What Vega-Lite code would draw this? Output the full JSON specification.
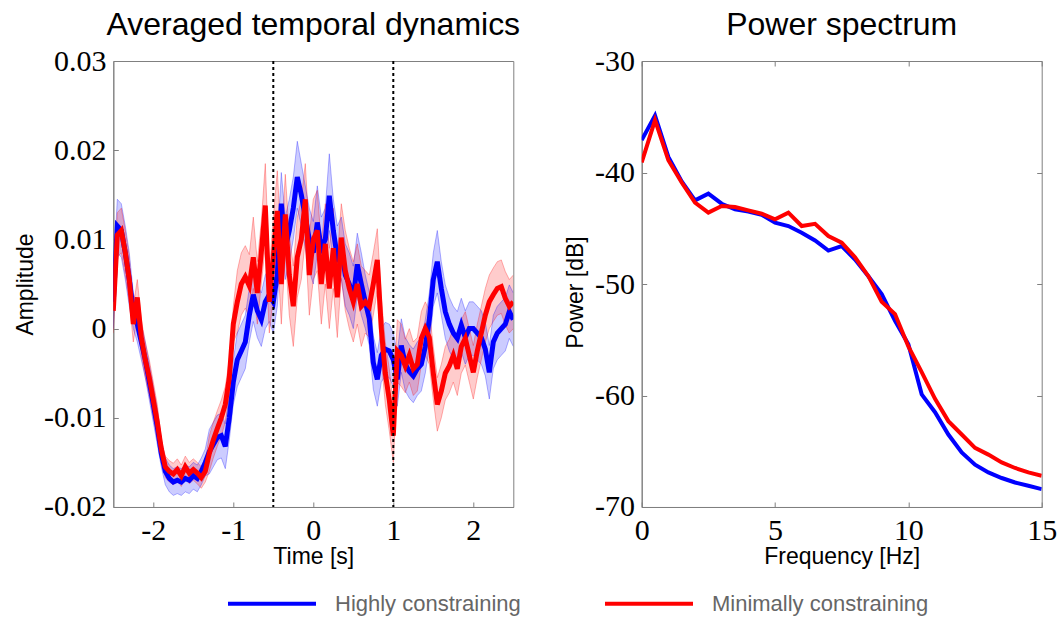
{
  "$schema": "https://vega.github.io/schema/vega-lite/v6.json",
  "background": "white",
  "padding": {"left": 13.3, "top": 8, "right": 10, "bottom": 5},
  "spacing": 42.4,
  "datasets": {
    "td": [
      {"t":-2.50,"s":"Highly constraining","m":0.0030,"lo":0.0000,"hi":0.0060},
      {"t":-2.45,"s":"Highly constraining","m":0.0115,"lo":0.0085,"hi":0.0145},
      {"t":-2.40,"s":"Highly constraining","m":0.0110,"lo":0.0080,"hi":0.0140},
      {"t":-2.35,"s":"Highly constraining","m":0.0085,"lo":0.0055,"hi":0.0115},
      {"t":-2.30,"s":"Highly constraining","m":0.0055,"lo":0.0025,"hi":0.0085},
      {"t":-2.25,"s":"Highly constraining","m":0.0020,"lo":0.0000,"hi":0.0040},
      {"t":-2.20,"s":"Highly constraining","m":0.0005,"lo":-0.0015,"hi":0.0025},
      {"t":-2.15,"s":"Highly constraining","m":-0.0015,"lo":-0.0035,"hi":0.0005},
      {"t":-2.10,"s":"Highly constraining","m":-0.0035,"lo":-0.0055,"hi":-0.0015},
      {"t":-2.05,"s":"Highly constraining","m":-0.0060,"lo":-0.0080,"hi":-0.0040},
      {"t":-2.00,"s":"Highly constraining","m":-0.0085,"lo":-0.0105,"hi":-0.0065},
      {"t":-1.95,"s":"Highly constraining","m":-0.0110,"lo":-0.0130,"hi":-0.0090},
      {"t":-1.90,"s":"Highly constraining","m":-0.0140,"lo":-0.0155,"hi":-0.0125},
      {"t":-1.85,"s":"Highly constraining","m":-0.0160,"lo":-0.0175,"hi":-0.0145},
      {"t":-1.80,"s":"Highly constraining","m":-0.0168,"lo":-0.0183,"hi":-0.0153},
      {"t":-1.75,"s":"Highly constraining","m":-0.0172,"lo":-0.0187,"hi":-0.0157},
      {"t":-1.70,"s":"Highly constraining","m":-0.0170,"lo":-0.0185,"hi":-0.0155},
      {"t":-1.65,"s":"Highly constraining","m":-0.0172,"lo":-0.0187,"hi":-0.0157},
      {"t":-1.60,"s":"Highly constraining","m":-0.0168,"lo":-0.0183,"hi":-0.0153},
      {"t":-1.55,"s":"Highly constraining","m":-0.0170,"lo":-0.0185,"hi":-0.0155},
      {"t":-1.50,"s":"Highly constraining","m":-0.0165,"lo":-0.0180,"hi":-0.0150},
      {"t":-1.45,"s":"Highly constraining","m":-0.0168,"lo":-0.0183,"hi":-0.0153},
      {"t":-1.40,"s":"Highly constraining","m":-0.0160,"lo":-0.0175,"hi":-0.0145},
      {"t":-1.35,"s":"Highly constraining","m":-0.0150,"lo":-0.0165,"hi":-0.0135},
      {"t":-1.30,"s":"Highly constraining","m":-0.0138,"lo":-0.0163,"hi":-0.0113},
      {"t":-1.25,"s":"Highly constraining","m":-0.0130,"lo":-0.0155,"hi":-0.0105},
      {"t":-1.20,"s":"Highly constraining","m":-0.0122,"lo":-0.0147,"hi":-0.0097},
      {"t":-1.15,"s":"Highly constraining","m":-0.0120,"lo":-0.0145,"hi":-0.0095},
      {"t":-1.10,"s":"Highly constraining","m":-0.0132,"lo":-0.0157,"hi":-0.0107},
      {"t":-1.05,"s":"Highly constraining","m":-0.0100,"lo":-0.0125,"hi":-0.0075},
      {"t":-1.00,"s":"Highly constraining","m":-0.0060,"lo":-0.0085,"hi":-0.0035},
      {"t":-0.95,"s":"Highly constraining","m":-0.0035,"lo":-0.0065,"hi":-0.0005},
      {"t":-0.90,"s":"Highly constraining","m":-0.0025,"lo":-0.0055,"hi":0.0005},
      {"t":-0.85,"s":"Highly constraining","m":-0.0015,"lo":-0.0045,"hi":0.0015},
      {"t":-0.80,"s":"Highly constraining","m":0.0015,"lo":-0.0015,"hi":0.0045},
      {"t":-0.75,"s":"Highly constraining","m":0.0038,"lo":0.0008,"hi":0.0068},
      {"t":-0.70,"s":"Highly constraining","m":0.0020,"lo":-0.0010,"hi":0.0050},
      {"t":-0.65,"s":"Highly constraining","m":0.0010,"lo":-0.0020,"hi":0.0040},
      {"t":-0.60,"s":"Highly constraining","m":0.0030,"lo":0.0000,"hi":0.0060},
      {"t":-0.55,"s":"Highly constraining","m":0.0038,"lo":0.0008,"hi":0.0068},
      {"t":-0.50,"s":"Highly constraining","m":0.0030,"lo":-0.0005,"hi":0.0065},
      {"t":-0.45,"s":"Highly constraining","m":0.0060,"lo":0.0025,"hi":0.0095},
      {"t":-0.40,"s":"Highly constraining","m":0.0140,"lo":0.0105,"hi":0.0175},
      {"t":-0.35,"s":"Highly constraining","m":0.0090,"lo":0.0055,"hi":0.0125},
      {"t":-0.30,"s":"Highly constraining","m":0.0110,"lo":0.0075,"hi":0.0145},
      {"t":-0.25,"s":"Highly constraining","m":0.0135,"lo":0.0100,"hi":0.0170},
      {"t":-0.20,"s":"Highly constraining","m":0.0170,"lo":0.0135,"hi":0.0210},
      {"t":-0.15,"s":"Highly constraining","m":0.0150,"lo":0.0115,"hi":0.0185},
      {"t":-0.10,"s":"Highly constraining","m":0.0125,"lo":0.0090,"hi":0.0160},
      {"t":-0.05,"s":"Highly constraining","m":0.0100,"lo":0.0065,"hi":0.0135},
      {"t":0.00,"s":"Highly constraining","m":0.0085,"lo":0.0050,"hi":0.0120},
      {"t":0.05,"s":"Highly constraining","m":0.0119,"lo":0.0084,"hi":0.0160},
      {"t":0.10,"s":"Highly constraining","m":0.0090,"lo":0.0055,"hi":0.0125},
      {"t":0.15,"s":"Highly constraining","m":0.0100,"lo":0.0065,"hi":0.0135},
      {"t":0.20,"s":"Highly constraining","m":0.0149,"lo":0.0110,"hi":0.0196},
      {"t":0.25,"s":"Highly constraining","m":0.0110,"lo":0.0075,"hi":0.0145},
      {"t":0.30,"s":"Highly constraining","m":0.0080,"lo":0.0045,"hi":0.0115},
      {"t":0.35,"s":"Highly constraining","m":0.0090,"lo":0.0055,"hi":0.0125},
      {"t":0.40,"s":"Highly constraining","m":0.0060,"lo":0.0025,"hi":0.0095},
      {"t":0.45,"s":"Highly constraining","m":0.0050,"lo":0.0015,"hi":0.0085},
      {"t":0.50,"s":"Highly constraining","m":0.0035,"lo":0.0000,"hi":0.0070},
      {"t":0.55,"s":"Highly constraining","m":0.0072,"lo":0.0037,"hi":0.0107},
      {"t":0.60,"s":"Highly constraining","m":0.0050,"lo":0.0015,"hi":0.0085},
      {"t":0.65,"s":"Highly constraining","m":0.0030,"lo":0.0000,"hi":0.0060},
      {"t":0.70,"s":"Highly constraining","m":0.0011,"lo":-0.0019,"hi":0.0041},
      {"t":0.75,"s":"Highly constraining","m":-0.0038,"lo":-0.0068,"hi":-0.0008},
      {"t":0.80,"s":"Highly constraining","m":-0.0057,"lo":-0.0087,"hi":-0.0027},
      {"t":0.85,"s":"Highly constraining","m":-0.0030,"lo":-0.0060,"hi":0.0000},
      {"t":0.90,"s":"Highly constraining","m":-0.0023,"lo":-0.0053,"hi":0.0007},
      {"t":0.95,"s":"Highly constraining","m":-0.0025,"lo":-0.0055,"hi":0.0005},
      {"t":1.00,"s":"Highly constraining","m":-0.0035,"lo":-0.0065,"hi":-0.0005},
      {"t":1.05,"s":"Highly constraining","m":-0.0057,"lo":-0.0087,"hi":-0.0027},
      {"t":1.10,"s":"Highly constraining","m":-0.0019,"lo":-0.0049,"hi":0.0011},
      {"t":1.15,"s":"Highly constraining","m":-0.0040,"lo":-0.0070,"hi":-0.0010},
      {"t":1.20,"s":"Highly constraining","m":-0.0048,"lo":-0.0078,"hi":-0.0018},
      {"t":1.25,"s":"Highly constraining","m":-0.0053,"lo":-0.0083,"hi":-0.0023},
      {"t":1.30,"s":"Highly constraining","m":-0.0045,"lo":-0.0075,"hi":-0.0015},
      {"t":1.35,"s":"Highly constraining","m":-0.0040,"lo":-0.0070,"hi":-0.0010},
      {"t":1.40,"s":"Highly constraining","m":-0.0020,"lo":-0.0050,"hi":0.0010},
      {"t":1.45,"s":"Highly constraining","m":0.0010,"lo":-0.0020,"hi":0.0040},
      {"t":1.50,"s":"Highly constraining","m":0.0055,"lo":0.0025,"hi":0.0085},
      {"t":1.55,"s":"Highly constraining","m":0.0075,"lo":0.0040,"hi":0.0110},
      {"t":1.60,"s":"Highly constraining","m":0.0045,"lo":0.0015,"hi":0.0075},
      {"t":1.65,"s":"Highly constraining","m":0.0019,"lo":-0.0011,"hi":0.0049},
      {"t":1.70,"s":"Highly constraining","m":0.0005,"lo":-0.0025,"hi":0.0035},
      {"t":1.75,"s":"Highly constraining","m":-0.0005,"lo":-0.0035,"hi":0.0025},
      {"t":1.80,"s":"Highly constraining","m":-0.0011,"lo":-0.0041,"hi":0.0019},
      {"t":1.85,"s":"Highly constraining","m":0.0004,"lo":-0.0026,"hi":0.0034},
      {"t":1.90,"s":"Highly constraining","m":-0.0010,"lo":-0.0040,"hi":0.0020},
      {"t":1.95,"s":"Highly constraining","m":0.0000,"lo":-0.0030,"hi":0.0030},
      {"t":2.00,"s":"Highly constraining","m":0.0000,"lo":-0.0030,"hi":0.0030},
      {"t":2.05,"s":"Highly constraining","m":-0.0005,"lo":-0.0035,"hi":0.0025},
      {"t":2.10,"s":"Highly constraining","m":-0.0010,"lo":-0.0040,"hi":0.0020},
      {"t":2.15,"s":"Highly constraining","m":-0.0023,"lo":-0.0053,"hi":0.0007},
      {"t":2.20,"s":"Highly constraining","m":-0.0049,"lo":-0.0079,"hi":-0.0019},
      {"t":2.25,"s":"Highly constraining","m":-0.0015,"lo":-0.0045,"hi":0.0015},
      {"t":2.30,"s":"Highly constraining","m":-0.0005,"lo":-0.0035,"hi":0.0025},
      {"t":2.35,"s":"Highly constraining","m":0.0000,"lo":-0.0030,"hi":0.0030},
      {"t":2.40,"s":"Highly constraining","m":0.0005,"lo":-0.0025,"hi":0.0035},
      {"t":2.45,"s":"Highly constraining","m":0.0019,"lo":-0.0011,"hi":0.0049},
      {"t":2.50,"s":"Highly constraining","m":0.0010,"lo":-0.0020,"hi":0.0040},
      {"t":-2.50,"s":"Minimally constraining","m":0.0020,"lo":-0.0005,"hi":0.0045},
      {"t":-2.45,"s":"Minimally constraining","m":0.0105,"lo":0.0080,"hi":0.0130},
      {"t":-2.40,"s":"Minimally constraining","m":0.0110,"lo":0.0085,"hi":0.0135},
      {"t":-2.35,"s":"Minimally constraining","m":0.0085,"lo":0.0060,"hi":0.0110},
      {"t":-2.30,"s":"Minimally constraining","m":0.0055,"lo":0.0030,"hi":0.0080},
      {"t":-2.25,"s":"Minimally constraining","m":0.0005,"lo":-0.0015,"hi":0.0025},
      {"t":-2.20,"s":"Minimally constraining","m":0.0035,"lo":0.0015,"hi":0.0055},
      {"t":-2.15,"s":"Minimally constraining","m":-0.0010,"lo":-0.0030,"hi":0.0010},
      {"t":-2.10,"s":"Minimally constraining","m":-0.0035,"lo":-0.0055,"hi":-0.0015},
      {"t":-2.05,"s":"Minimally constraining","m":-0.0055,"lo":-0.0075,"hi":-0.0035},
      {"t":-2.00,"s":"Minimally constraining","m":-0.0080,"lo":-0.0100,"hi":-0.0060},
      {"t":-1.95,"s":"Minimally constraining","m":-0.0105,"lo":-0.0125,"hi":-0.0085},
      {"t":-1.90,"s":"Minimally constraining","m":-0.0135,"lo":-0.0147,"hi":-0.0123},
      {"t":-1.85,"s":"Minimally constraining","m":-0.0155,"lo":-0.0167,"hi":-0.0143},
      {"t":-1.80,"s":"Minimally constraining","m":-0.0160,"lo":-0.0172,"hi":-0.0148},
      {"t":-1.75,"s":"Minimally constraining","m":-0.0163,"lo":-0.0175,"hi":-0.0151},
      {"t":-1.70,"s":"Minimally constraining","m":-0.0158,"lo":-0.0170,"hi":-0.0146},
      {"t":-1.65,"s":"Minimally constraining","m":-0.0165,"lo":-0.0177,"hi":-0.0153},
      {"t":-1.60,"s":"Minimally constraining","m":-0.0155,"lo":-0.0167,"hi":-0.0143},
      {"t":-1.55,"s":"Minimally constraining","m":-0.0162,"lo":-0.0174,"hi":-0.0150},
      {"t":-1.50,"s":"Minimally constraining","m":-0.0158,"lo":-0.0170,"hi":-0.0146},
      {"t":-1.45,"s":"Minimally constraining","m":-0.0162,"lo":-0.0174,"hi":-0.0150},
      {"t":-1.40,"s":"Minimally constraining","m":-0.0167,"lo":-0.0179,"hi":-0.0155},
      {"t":-1.35,"s":"Minimally constraining","m":-0.0160,"lo":-0.0172,"hi":-0.0148},
      {"t":-1.30,"s":"Minimally constraining","m":-0.0140,"lo":-0.0160,"hi":-0.0120},
      {"t":-1.25,"s":"Minimally constraining","m":-0.0125,"lo":-0.0145,"hi":-0.0105},
      {"t":-1.20,"s":"Minimally constraining","m":-0.0112,"lo":-0.0132,"hi":-0.0092},
      {"t":-1.15,"s":"Minimally constraining","m":-0.0100,"lo":-0.0120,"hi":-0.0080},
      {"t":-1.10,"s":"Minimally constraining","m":-0.0085,"lo":-0.0105,"hi":-0.0065},
      {"t":-1.05,"s":"Minimally constraining","m":-0.0055,"lo":-0.0075,"hi":-0.0035},
      {"t":-1.00,"s":"Minimally constraining","m":0.0005,"lo":-0.0015,"hi":0.0025},
      {"t":-0.95,"s":"Minimally constraining","m":0.0030,"lo":-0.0005,"hi":0.0065},
      {"t":-0.90,"s":"Minimally constraining","m":0.0050,"lo":0.0015,"hi":0.0085},
      {"t":-0.85,"s":"Minimally constraining","m":0.0058,"lo":0.0023,"hi":0.0093},
      {"t":-0.80,"s":"Minimally constraining","m":0.0048,"lo":0.0013,"hi":0.0083},
      {"t":-0.75,"s":"Minimally constraining","m":0.0080,"lo":0.0045,"hi":0.0125},
      {"t":-0.70,"s":"Minimally constraining","m":0.0040,"lo":0.0005,"hi":0.0075},
      {"t":-0.65,"s":"Minimally constraining","m":0.0085,"lo":0.0050,"hi":0.0120},
      {"t":-0.60,"s":"Minimally constraining","m":0.0138,"lo":0.0093,"hi":0.0185},
      {"t":-0.55,"s":"Minimally constraining","m":0.0030,"lo":-0.0005,"hi":0.0065},
      {"t":-0.50,"s":"Minimally constraining","m":0.0080,"lo":0.0035,"hi":0.0125},
      {"t":-0.45,"s":"Minimally constraining","m":0.0132,"lo":0.0087,"hi":0.0177},
      {"t":-0.40,"s":"Minimally constraining","m":0.0050,"lo":0.0005,"hi":0.0095},
      {"t":-0.35,"s":"Minimally constraining","m":0.0128,"lo":0.0083,"hi":0.0173},
      {"t":-0.30,"s":"Minimally constraining","m":0.0060,"lo":0.0015,"hi":0.0105},
      {"t":-0.25,"s":"Minimally constraining","m":0.0025,"lo":-0.0020,"hi":0.0070},
      {"t":-0.20,"s":"Minimally constraining","m":0.0080,"lo":0.0035,"hi":0.0125},
      {"t":-0.15,"s":"Minimally constraining","m":0.0100,"lo":0.0055,"hi":0.0145},
      {"t":-0.10,"s":"Minimally constraining","m":0.0145,"lo":0.0100,"hi":0.0185},
      {"t":-0.05,"s":"Minimally constraining","m":0.0060,"lo":0.0015,"hi":0.0105},
      {"t":0.00,"s":"Minimally constraining","m":0.0100,"lo":0.0055,"hi":0.0145},
      {"t":0.05,"s":"Minimally constraining","m":0.0110,"lo":0.0065,"hi":0.0155},
      {"t":0.10,"s":"Minimally constraining","m":0.0050,"lo":0.0005,"hi":0.0095},
      {"t":0.15,"s":"Minimally constraining","m":0.0095,"lo":0.0050,"hi":0.0140},
      {"t":0.20,"s":"Minimally constraining","m":0.0045,"lo":0.0000,"hi":0.0090},
      {"t":0.25,"s":"Minimally constraining","m":0.0090,"lo":0.0045,"hi":0.0135},
      {"t":0.30,"s":"Minimally constraining","m":0.0035,"lo":-0.0010,"hi":0.0080},
      {"t":0.35,"s":"Minimally constraining","m":0.0102,"lo":0.0057,"hi":0.0140},
      {"t":0.40,"s":"Minimally constraining","m":0.0065,"lo":0.0020,"hi":0.0110},
      {"t":0.45,"s":"Minimally constraining","m":0.0045,"lo":0.0000,"hi":0.0090},
      {"t":0.50,"s":"Minimally constraining","m":0.0030,"lo":-0.0015,"hi":0.0075},
      {"t":0.55,"s":"Minimally constraining","m":0.0050,"lo":0.0005,"hi":0.0095},
      {"t":0.60,"s":"Minimally constraining","m":0.0025,"lo":-0.0020,"hi":0.0070},
      {"t":0.65,"s":"Minimally constraining","m":0.0030,"lo":-0.0005,"hi":0.0065},
      {"t":0.70,"s":"Minimally constraining","m":0.0025,"lo":-0.0010,"hi":0.0060},
      {"t":0.75,"s":"Minimally constraining","m":0.0050,"lo":0.0015,"hi":0.0085},
      {"t":0.80,"s":"Minimally constraining","m":0.0077,"lo":0.0042,"hi":0.0112},
      {"t":0.85,"s":"Minimally constraining","m":0.0000,"lo":-0.0035,"hi":0.0035},
      {"t":0.90,"s":"Minimally constraining","m":-0.0050,"lo":-0.0085,"hi":-0.0015},
      {"t":0.95,"s":"Minimally constraining","m":-0.0080,"lo":-0.0115,"hi":-0.0045},
      {"t":1.00,"s":"Minimally constraining","m":-0.0120,"lo":-0.0150,"hi":-0.0085},
      {"t":1.05,"s":"Minimally constraining","m":-0.0025,"lo":-0.0060,"hi":0.0010},
      {"t":1.10,"s":"Minimally constraining","m":-0.0030,"lo":-0.0065,"hi":0.0005},
      {"t":1.15,"s":"Minimally constraining","m":-0.0042,"lo":-0.0072,"hi":-0.0012},
      {"t":1.20,"s":"Minimally constraining","m":-0.0030,"lo":-0.0060,"hi":0.0000},
      {"t":1.25,"s":"Minimally constraining","m":-0.0045,"lo":-0.0075,"hi":-0.0015},
      {"t":1.30,"s":"Minimally constraining","m":-0.0040,"lo":-0.0070,"hi":-0.0010},
      {"t":1.35,"s":"Minimally constraining","m":-0.0011,"lo":-0.0041,"hi":0.0019},
      {"t":1.40,"s":"Minimally constraining","m":0.0000,"lo":-0.0030,"hi":0.0030},
      {"t":1.45,"s":"Minimally constraining","m":-0.0010,"lo":-0.0040,"hi":0.0020},
      {"t":1.50,"s":"Minimally constraining","m":-0.0050,"lo":-0.0080,"hi":-0.0020},
      {"t":1.55,"s":"Minimally constraining","m":-0.0085,"lo":-0.0115,"hi":-0.0055},
      {"t":1.60,"s":"Minimally constraining","m":-0.0070,"lo":-0.0100,"hi":-0.0040},
      {"t":1.65,"s":"Minimally constraining","m":-0.0050,"lo":-0.0080,"hi":-0.0020},
      {"t":1.70,"s":"Minimally constraining","m":-0.0042,"lo":-0.0072,"hi":-0.0012},
      {"t":1.75,"s":"Minimally constraining","m":-0.0030,"lo":-0.0060,"hi":0.0000},
      {"t":1.80,"s":"Minimally constraining","m":-0.0045,"lo":-0.0075,"hi":-0.0015},
      {"t":1.85,"s":"Minimally constraining","m":-0.0020,"lo":-0.0050,"hi":0.0010},
      {"t":1.90,"s":"Minimally constraining","m":-0.0011,"lo":-0.0041,"hi":0.0019},
      {"t":1.95,"s":"Minimally constraining","m":-0.0030,"lo":-0.0060,"hi":0.0000},
      {"t":2.00,"s":"Minimally constraining","m":-0.0049,"lo":-0.0079,"hi":-0.0019},
      {"t":2.05,"s":"Minimally constraining","m":-0.0025,"lo":-0.0055,"hi":0.0005},
      {"t":2.10,"s":"Minimally constraining","m":-0.0005,"lo":-0.0035,"hi":0.0025},
      {"t":2.15,"s":"Minimally constraining","m":0.0015,"lo":-0.0015,"hi":0.0045},
      {"t":2.20,"s":"Minimally constraining","m":0.0030,"lo":0.0000,"hi":0.0060},
      {"t":2.25,"s":"Minimally constraining","m":0.0038,"lo":0.0008,"hi":0.0068},
      {"t":2.30,"s":"Minimally constraining","m":0.0045,"lo":0.0015,"hi":0.0075},
      {"t":2.35,"s":"Minimally constraining","m":0.0047,"lo":0.0017,"hi":0.0077},
      {"t":2.40,"s":"Minimally constraining","m":0.0034,"lo":0.0004,"hi":0.0064},
      {"t":2.45,"s":"Minimally constraining","m":0.0025,"lo":-0.0005,"hi":0.0055},
      {"t":2.50,"s":"Minimally constraining","m":0.0030,"lo":0.0000,"hi":0.0060}
    ],
    "ev": [{"t": -0.5}, {"t": 1.0}],
    "ps": [
      {"f":0.0,"s":"Highly constraining","p":-37.1},{"f":0.5,"s":"Highly constraining","p":-34.9},
      {"f":1.0,"s":"Highly constraining","p":-38.6},{"f":1.5,"s":"Highly constraining","p":-40.8},
      {"f":2.0,"s":"Highly constraining","p":-42.5},{"f":2.5,"s":"Highly constraining","p":-41.9},
      {"f":3.0,"s":"Highly constraining","p":-42.8},{"f":3.5,"s":"Highly constraining","p":-43.3},
      {"f":4.0,"s":"Highly constraining","p":-43.5},{"f":4.5,"s":"Highly constraining","p":-43.8},
      {"f":5.0,"s":"Highly constraining","p":-44.5},{"f":5.5,"s":"Highly constraining","p":-44.8},
      {"f":6.0,"s":"Highly constraining","p":-45.4},{"f":6.5,"s":"Highly constraining","p":-46.1},
      {"f":7.0,"s":"Highly constraining","p":-47.0},{"f":7.5,"s":"Highly constraining","p":-46.6},
      {"f":8.0,"s":"Highly constraining","p":-47.8},{"f":8.5,"s":"Highly constraining","p":-49.3},
      {"f":9.0,"s":"Highly constraining","p":-50.9},{"f":9.5,"s":"Highly constraining","p":-53.3},
      {"f":10.0,"s":"Highly constraining","p":-55.4},{"f":10.5,"s":"Highly constraining","p":-59.9},
      {"f":11.0,"s":"Highly constraining","p":-61.5},{"f":11.5,"s":"Highly constraining","p":-63.5},
      {"f":12.0,"s":"Highly constraining","p":-65.1},{"f":12.5,"s":"Highly constraining","p":-66.2},
      {"f":13.0,"s":"Highly constraining","p":-66.9},{"f":13.5,"s":"Highly constraining","p":-67.4},
      {"f":14.0,"s":"Highly constraining","p":-67.8},{"f":14.5,"s":"Highly constraining","p":-68.1},
      {"f":15.0,"s":"Highly constraining","p":-68.4},
      {"f":0.0,"s":"Minimally constraining","p":-39.1},{"f":0.5,"s":"Minimally constraining","p":-35.3},
      {"f":1.0,"s":"Minimally constraining","p":-38.9},{"f":1.5,"s":"Minimally constraining","p":-40.9},
      {"f":2.0,"s":"Minimally constraining","p":-42.7},{"f":2.5,"s":"Minimally constraining","p":-43.6},
      {"f":3.0,"s":"Minimally constraining","p":-43.0},{"f":3.5,"s":"Minimally constraining","p":-43.1},
      {"f":4.0,"s":"Minimally constraining","p":-43.4},{"f":4.5,"s":"Minimally constraining","p":-43.7},
      {"f":5.0,"s":"Minimally constraining","p":-44.2},{"f":5.5,"s":"Minimally constraining","p":-43.6},
      {"f":6.0,"s":"Minimally constraining","p":-44.8},{"f":6.5,"s":"Minimally constraining","p":-44.6},
      {"f":7.0,"s":"Minimally constraining","p":-45.7},{"f":7.5,"s":"Minimally constraining","p":-46.3},
      {"f":8.0,"s":"Minimally constraining","p":-47.6},{"f":8.5,"s":"Minimally constraining","p":-49.3},
      {"f":9.0,"s":"Minimally constraining","p":-51.6},{"f":9.5,"s":"Minimally constraining","p":-52.7},
      {"f":10.0,"s":"Minimally constraining","p":-55.6},{"f":10.5,"s":"Minimally constraining","p":-57.9},
      {"f":11.0,"s":"Minimally constraining","p":-60.3},{"f":11.5,"s":"Minimally constraining","p":-62.3},
      {"f":12.0,"s":"Minimally constraining","p":-63.5},{"f":12.5,"s":"Minimally constraining","p":-64.7},
      {"f":13.0,"s":"Minimally constraining","p":-65.3},{"f":13.5,"s":"Minimally constraining","p":-66.0},
      {"f":14.0,"s":"Minimally constraining","p":-66.5},{"f":14.5,"s":"Minimally constraining","p":-66.9},
      {"f":15.0,"s":"Minimally constraining","p":-67.2}
    ]
  },
  "hconcat": [
    {
      "title": {"text": "Averaged temporal dynamics"},
      "width": 400,
      "height": 446,
      "data": {"name": "td"},
      "layer": [
        {
          "mark": {"type": "area", "opacity": 0.2, "clip": true},
          "encoding": {
            "x": {"field": "t", "type": "quantitative", "title": "Time [s]",
                  "scale": {"domain": [-2.5, 2.5], "nice": false, "zero": false},
                  "axis": {"values": [-2, -1, 0, 1, 2], "labelExpr": "'' + datum.value"}},
            "y": {"field": "lo", "type": "quantitative", "title": "Amplitude",
                  "scale": {"domain": [-0.02, 0.03], "nice": false, "zero": false},
                  "axis": {"values": [-0.02, -0.01, 0, 0.01, 0.02, 0.03], "labelExpr": "'' + datum.value"}},
            "y2": {"field": "hi"},
            "fill": {"field": "s", "type": "nominal",
                     "scale": {"range": ["#0000ff", "#ff0000"]},
                     "legend": null}
          }
        },
        {
          "mark": {"type": "line", "strokeWidth": 1, "opacity": 0.3, "clip": true},
          "encoding": {
            "x": {"field": "t", "type": "quantitative", "title": "Time [s]"},
            "y": {"field": "lo", "type": "quantitative", "title": "Amplitude"},
            "stroke": {"field": "s", "type": "nominal",
                       "scale": {"range": ["#0000ff", "#ff0000"]},
                       "legend": null}
          }
        },
        {
          "mark": {"type": "line", "strokeWidth": 1, "opacity": 0.3, "clip": true},
          "encoding": {
            "x": {"field": "t", "type": "quantitative", "title": "Time [s]"},
            "y": {"field": "hi", "type": "quantitative", "title": "Amplitude"},
            "stroke": {"field": "s", "type": "nominal", "legend": null}
          }
        },
        {
          "mark": {"type": "line", "strokeWidth": 5, "clip": true},
          "encoding": {
            "x": {"field": "t", "type": "quantitative", "title": "Time [s]"},
            "y": {"field": "m", "type": "quantitative", "title": "Amplitude"},
            "color": {"field": "s", "type": "nominal",
                      "scale": {"domain": ["Highly constraining", "Minimally constraining"], "range": ["#0000ff", "#ff0000"]}}
          }
        },
        {
          "data": {"name": "ev"},
          "mark": {"type": "rule", "color": "#000000", "strokeWidth": 2, "strokeDash": [3, 3]},
          "encoding": {
            "x": {"field": "t", "type": "quantitative", "title": "Time [s]"}
          }
        }
      ]
    },
    {
      "title": {"text": "Power spectrum"},
      "width": 400,
      "height": 446,
      "data": {"name": "ps"},
      "layer": [
        {
          "mark": {"type": "line", "strokeWidth": 4, "clip": true},
          "encoding": {
            "x": {"field": "f", "type": "quantitative", "title": "Frequency [Hz]",
                  "scale": {"domain": [0, 15], "nice": false},
                  "axis": {"values": [0, 5, 10, 15], "labelExpr": "'' + datum.value"}},
            "y": {"field": "p", "type": "quantitative", "title": "Power [dB]",
                  "scale": {"domain": [-70, -30], "nice": false, "zero": false},
                  "axis": {"values": [-70, -60, -50, -40, -30], "labelExpr": "'' + datum.value", "titleY": 231}},
            "color": {"field": "s", "type": "nominal",
                      "scale": {"domain": ["Highly constraining", "Minimally constraining"], "range": ["#0000ff", "#ff0000"]},
                      "legend": {"orient": "none", "legendX": 112.7, "legendY": 496.7, "direction": "horizontal",
                                 "title": null, "symbolType": "stroke", "symbolSize": 7744, "symbolStrokeWidth": 4,
                                 "labelFont": "Liberation Sans", "labelFontSize": 22, "labelColor": "#666666",
                                 "labelOffset": 17, "columnPadding": 76, "padding": 0, "labelLimit": 400}}
          }
        },
        {
          "mark": {"type": "line", "opacity": 0},
          "encoding": {
            "x": {"field": "f", "type": "quantitative",
                  "axis": {"orient": "top", "title": null, "labels": false, "domain": false, "values": [0, 5, 10, 15]}},
            "y": {"field": "p", "type": "quantitative",
                  "axis": {"orient": "right", "title": null, "labels": false, "domain": false, "values": [-70, -60, -50, -40, -30]}},
            "detail": {"field": "s"}
          }
        }
      ],
      "resolve": {"axis": {"x": "independent", "y": "independent"}}
    }
  ],
  "config": {
    "view": {"stroke": "#808080", "strokeWidth": 1},
    "axis": {
      "grid": false, "domainColor": "#808080", "tickColor": "#808080", "tickSize": -5,
      "labelFont": "Liberation Serif", "labelFontSize": 30, "labelColor": "#000000",
      "labelFlush": false, "labelOverlap": false, "labelPadding": 13.6,
      "titleFont": "Liberation Sans", "titleFontSize": 23, "titleFontWeight": "normal", "titleColor": "#000000",
      "titlePadding": 0
    },
    "axisLeft": {"labelPadding": 12.3, "titlePadding": 6.5},
    "title": {"font": "Liberation Sans", "fontSize": 32, "fontWeight": "normal", "color": "#000000", "anchor": "middle", "baseline": "alphabetic", "offset": 4}
  }
}
